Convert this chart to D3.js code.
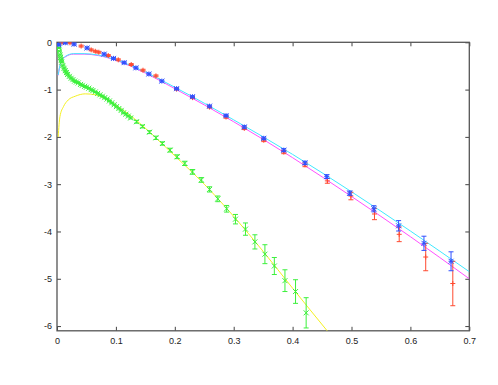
<!DOCTYPE html>
<html lang="en">

<head>
    <meta charset="UTF-8">
    <title>Fit plot</title>
    <script src="https://cdnjs.cloudflare.com/ajax/libs/d3/7.8.5/d3.min.js"></script>
    <style>
        body {
            margin: 0;
            background: white;
        }

        svg {
            display: block;
        }

        .tick text {
            font-family: "Liberation Sans", Arial, sans-serif;
            font-size: 9px;
            fill: #222;
        }

        .tick line {
            stroke: #444;
        }

        .frame {
            fill: none;
            stroke: #555;
            stroke-width: 1.3;
        }

        .fit {
            fill: none;
            stroke-width: 1;
        }
    </style>
</head>

<body>
    <div class="plot"></div>
    <script>
        // tick values
        const xTicks = [0, 0.1, 0.2, 0.3, 0.4, 0.5, 0.6, 0.7];
        const yTicks = [-6, -5, -4, -3, -2, -1, 0];

        // red data (+)
        const redX = [0.0085, 0.022, 0.041, 0.058, 0.065, 0.071, 0.087, 0.104, 0.126, 0.146, 0.168,
            0.203, 0.230, 0.259, 0.287, 0.318, 0.351, 0.385,
            0.421, 0.459, 0.499, 0.539, 0.581, 0.626, 0.672];
        const redY = [0.0, -0.01, -0.08, -0.16, -0.19, -0.21, -0.28, -0.37, -0.47, -0.59, -0.71,
            -0.99, -1.17, -1.37, -1.58, -1.82, -2.07, -2.32,
            -2.59, -2.93, -3.25, -3.63, -4.06, -4.54, -5.10];
        const redErr = [0.02, 0.02, 0.02, 0.02, 0.02, 0.02, 0.02, 0.02, 0.02, 0.02, 0.02,
            0.02, 0.02, 0.02, 0.025, 0.025, 0.03, 0.035,
            0.04, 0.05, 0.08, 0.12, 0.155, 0.29, 0.47];

        // blue data (*)
        const blueX = [0.003, 0.014, 0.029, 0.051, 0.080, 0.096, 0.114, 0.134, 0.156, 0.178,
            0.203, 0.230, 0.259, 0.287, 0.318, 0.351, 0.385, 0.421, 0.458, 0.497,
            0.538, 0.580, 0.623, 0.669];
        const blueY = [-0.05, -0.01, -0.04, -0.12, -0.25, -0.34, -0.43, -0.54, -0.67, -0.82,
            -0.98, -1.15, -1.35, -1.55, -1.79, -2.03, -2.28, -2.55, -2.84, -3.19,
            -3.52, -3.88, -4.25, -4.63];
        const blueErr = [0.02, 0.02, 0.02, 0.02, 0.02, 0.02, 0.02, 0.02, 0.02, 0.02,
            0.02, 0.02, 0.02, 0.02, 0.025, 0.025, 0.03, 0.035, 0.04, 0.045,
            0.065, 0.11, 0.15, 0.2];

        // green data (x): dense band near zero, then sparse points with error bars
        const greenX = [0.002, 0.003, 0.004, 0.005, 0.006, 0.007, 0.008, 0.010, 0.012, 0.014,
            0.016, 0.018, 0.021, 0.024, 0.027, 0.030, 0.033, 0.036, 0.040, 0.043,
            0.047, 0.050, 0.054, 0.058, 0.061, 0.065, 0.069, 0.073, 0.077, 0.081,
            0.085, 0.089, 0.093, 0.097, 0.101, 0.105, 0.109, 0.113, 0.117, 0.121, 0.125,
            0.135, 0.145, 0.157, 0.168, 0.179, 0.192, 0.204, 0.217, 0.230, 0.245,
            0.259, 0.273, 0.288, 0.303, 0.320, 0.336, 0.353, 0.369, 0.387, 0.405, 0.423];
        const greenY = [-0.05, -0.12, -0.19, -0.26, -0.32, -0.37, -0.42, -0.49, -0.55, -0.60,
            -0.64, -0.68, -0.72, -0.76, -0.79, -0.82, -0.84, -0.86, -0.89, -0.91,
            -0.93, -0.95, -0.97, -1.00, -1.02, -1.05, -1.08, -1.11, -1.14, -1.17,
            -1.20, -1.24, -1.28, -1.32, -1.36, -1.40, -1.44, -1.49, -1.52, -1.56, -1.60,
            -1.68, -1.78, -1.90, -2.02, -2.14, -2.28, -2.42, -2.56, -2.74, -2.91,
            -3.11, -3.31, -3.52, -3.74, -3.95, -4.22, -4.48, -4.73, -5.04, -5.27, -5.72];
        const greenErr = [0.01, 0.01, 0.01, 0.01, 0.01, 0.01, 0.01, 0.01, 0.01, 0.01,
            0.01, 0.01, 0.01, 0.01, 0.01, 0.01, 0.01, 0.01, 0.01, 0.01,
            0.01, 0.01, 0.01, 0.01, 0.01, 0.01, 0.01, 0.01, 0.01, 0.01,
            0.01, 0.01, 0.01, 0.01, 0.01, 0.01, 0.01, 0.01, 0.015, 0.015, 0.02,
            0.03, 0.03, 0.03, 0.035, 0.035, 0.04, 0.04, 0.045, 0.05, 0.05,
            0.055, 0.06, 0.07, 0.1, 0.13, 0.15, 0.2, 0.18, 0.23, 0.25, 0.32];

        // fitted curves
        const cyanX = [0.002, 0.006, 0.014, 0.028, 0.046, 0.07, 0.1, 0.15, 0.2, 0.3, 0.4, 0.5, 0.6, 0.7];
        const cyanY = [-0.69, -0.44, -0.30, -0.24, -0.24, -0.27, -0.37, -0.63, -0.95, -1.64, -2.37, -3.16, -3.99, -4.85];
        const magentaX = [0.002, 0.006, 0.014, 0.028, 0.046, 0.07, 0.1, 0.15, 0.2, 0.3, 0.4, 0.5, 0.6, 0.7];
        const magentaY = [-0.70, -0.45, -0.31, -0.25, -0.25, -0.28, -0.38, -0.65, -0.98, -1.68, -2.44, -3.26, -4.11, -5.00];
        const yellowX = [0.002, 0.005, 0.011, 0.019, 0.031, 0.048, 0.065, 0.08, 0.1, 0.13, 0.16, 0.2, 0.25, 0.3, 0.35, 0.4, 0.46];
        const yellowY = [-2.0, -1.57, -1.36, -1.22, -1.14, -1.09, -1.11, -1.18, -1.33, -1.6, -1.93, -2.40, -3.0, -3.68, -4.42, -5.2, -6.12];

        const width = 498;
        const height = 385;

        const x = d3.scaleLinear().domain([0, 0.7]).range([57, 469.3]);
        const y = d3.scaleLinear().domain([-6.1, 0]).range([330.8, 42.3]);

        const svg = d3.select('.plot')
            .append('svg')
            .attr('width', width)
            .attr('height', height);

        svg.append('rect')
            .attr('width', width)
            .attr('height', height)
            .attr('fill', 'white');

        svg.append('clipPath')
            .attr('id', 'clip')
            .append('rect')
            .attr('x', x(0))
            .attr('y', y(0))
            .attr('width', x(0.7) - x(0))
            .attr('height', y(-6.1) - y(0));

        // axes with inward ticks on all four sides
        const fmt = d => String(d);
        svg.append('g')
            .attr('transform', `translate(${x(0)},0)`)
            .call(d3.axisLeft(y).tickValues(yTicks).tickSize(-4).tickSizeOuter(0).tickPadding(5).tickFormat(fmt))
            .call(g => g.select('.domain').remove());
        svg.append('g')
            .attr('transform', `translate(${x(0.7)},0)`)
            .call(d3.axisRight(y).tickValues(yTicks).tickSize(-4).tickSizeOuter(0).tickFormat(''))
            .call(g => g.select('.domain').remove());
        svg.append('g')
            .attr('transform', `translate(0,${y(-6.1)})`)
            .call(d3.axisBottom(x).tickValues(xTicks).tickSize(-4).tickSizeOuter(0).tickPadding(7).tickFormat(fmt))
            .call(g => g.select('.domain').remove());
        svg.append('g')
            .attr('transform', `translate(0,${y(0)})`)
            .call(d3.axisTop(x).tickValues(xTicks).tickSize(-4).tickSizeOuter(0).tickFormat(''))
            .call(g => g.select('.domain').remove());

        svg.append('rect')
            .attr('class', 'frame')
            .attr('x', x(0))
            .attr('y', y(0))
            .attr('width', x(0.7) - x(0))
            .attr('height', y(-6.1) - y(0));

        const plot = svg.append('g').attr('clip-path', 'url(#clip)');

        function zip(xs, ys, es) {
            return xs.map((v, i) => ({ x: v, y: ys[i], e: es ? es[i] : 0 }));
        }

        // fit curves
        const line = d3.line()
            .x(d => x(d.x))
            .y(d => y(d.y))
            .curve(d3.curveMonotoneX);

        [[magentaX, magentaY, '#ff50ff'], [cyanX, cyanY, '#40e8ff'], [yellowX, yellowY, '#f4f020']]
            .forEach(c => {
                plot.append('path')
                    .datum(zip(c[0], c[1]))
                    .attr('class', 'fit')
                    .attr('stroke', c[2])
                    .attr('d', line);
            });

        // points with error bars
        function series(data, color, marker) {
            const g = plot.append('g')
                .attr('stroke', color)
                .attr('stroke-width', 1)
                .attr('fill', 'none');
            const pts = g.selectAll('g')
                .data(data)
                .enter()
                .append('g')
                .attr('transform', d => `translate(${x(d.x)},${y(d.y)})`);
            const cap = 2.5;
            pts.append('path')
                .attr('d', d => {
                    const t = y(d.y + d.e) - y(d.y);
                    const b = y(d.y - d.e) - y(d.y);
                    return `M0,${t}V${b}M${-cap},${t}H${cap}M${-cap},${b}H${cap}`;
                });
            const s = 2.5;
            pts.append('path')
                .attr('d', () => {
                    let p = '';
                    if (marker.includes('+')) p += `M${-s},0H${s}M0,${-s}V${s}`;
                    if (marker.includes('x')) p += `M${-s},${-s}L${s},${s}M${-s},${s}L${s},${-s}`;
                    return p;
                });
        }

        series(zip(greenX, greenY, greenErr), '#3cf03c', 'x');
        series(zip(redX, redY, redErr), '#ff4a30', '+');
        series(zip(blueX, blueY, blueErr), '#3050ff', '+x');
    </script>
</body>

</html>
